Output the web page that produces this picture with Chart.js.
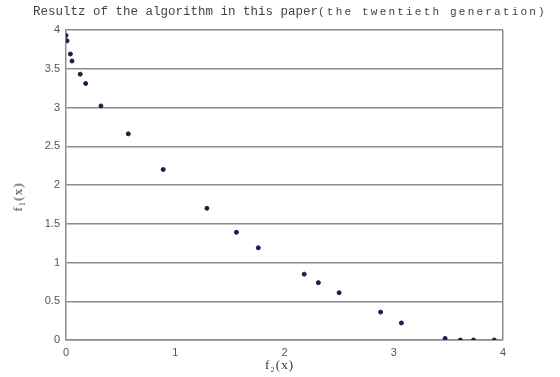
<!DOCTYPE html>
<html>
<head>
<meta charset="utf-8">
<script src="https://cdn.jsdelivr.net/npm/chart.js@4"></script>
<style>
  html, body { margin: 0; padding: 0; background: #fff; }
  #wrap { position: relative; width: 560px; height: 377px; overflow: hidden; }
  #wrap canvas { position: absolute; left: 0; top: 0; }
  .lbl { position: absolute; white-space: nowrap; color: #333; }
  #title { left: 33px; top: 5px; font-family: "Liberation Mono", "DejaVu Sans Mono", monospace; font-size: 12.5px; color: #444; }
  #title small { font-size: 11px; letter-spacing: 2.2px; }
  #xTitle { left: 265px; top: 357px; font-family: "Liberation Serif", serif; font-size: 13px; letter-spacing: 1px; }
  #yTitle { left: 18px; top: 197px; font-family: "Liberation Serif", serif; font-size: 13px; letter-spacing: 1px;
            transform: translate(-50%, -50%) rotate(-90deg); }
</style>
</head>
<body>
<div id="wrap">
  <canvas id="chart" width="560" height="377"></canvas>
  <div class="lbl" id="title">Resultz of the algorithm in this paper<small>(the twentieth generation)</small></div>
  <div class="lbl" id="xTitle">f₂(x)</div>
  <div class="lbl" id="yTitle">f₁(x)</div>
</div>
<script>
// Punkt-Daten (f2, f1)
const F2 = [0.00, 0.01, 0.04, 0.055, 0.13, 0.18, 0.32, 0.57, 0.89, 1.29, 1.56, 1.76, 2.18, 2.31, 2.50, 2.88, 3.07, 3.47, 3.61, 3.73, 3.92];
const F1 = [3.93, 3.86, 3.69, 3.60, 3.43, 3.31, 3.02, 2.66, 2.20, 1.70, 1.39, 1.19, 0.85, 0.74, 0.61, 0.36, 0.22, 0.02, 0.00, 0.00, 0.00];
const X_TICKS = [0, 1, 2, 3, 4];
const Y_TICKS = [0, 0.5, 1, 1.5, 2, 2.5, 3, 3.5, 4];

const points = F2.map((x, i) => ({ x, y: F1[i] }));
const GRID = '#8c8c8c';
const tickFont = { family: 'Liberation Sans', size: 11 };

new Chart(document.getElementById('chart'), {
    type: 'scatter',
    data: {
        datasets: [{
            data: points,
            backgroundColor: '#1c1c48',
            borderColor: '#1c1c48',
            pointRadius: 2,
            pointHoverRadius: 2,
        }],
    },
    options: {
        responsive: false,
        animation: false,
        layout: { padding: { top: 30, right: 57, left: 0, bottom: 0 } },
        plugins: { legend: { display: false }, tooltip: { enabled: false } },
        scales: {
            x: {
                type: 'linear', min: 0, max: 4,
                afterBuildTicks: (s) => { s.ticks = X_TICKS.map(v => ({ value: v })); },
                afterFit: (s) => { s.height = 37; },
                grid: {
                    color: (c) => (c.tick && c.tick.value === 4 ? GRID : 'rgba(0,0,0,0)'),
                    lineWidth: 1.5, drawTicks: false,
                },
                border: { color: GRID, width: 1.5 },
                ticks: { padding: 6, color: '#555', font: tickFont, callback: (v) => String(v) },
            },
            y: {
                type: 'linear', min: 0, max: 4,
                afterBuildTicks: (s) => { s.ticks = Y_TICKS.map(v => ({ value: v })); },
                afterFit: (s) => { s.width = 66; },
                grid: { color: GRID, lineWidth: 1.5, drawTicks: false },
                border: { color: GRID, width: 1.5 },
                ticks: { padding: 6, color: '#555', font: tickFont, callback: (v) => String(v) },
            },
        },
    },
});
</script>
</body>
</html>
